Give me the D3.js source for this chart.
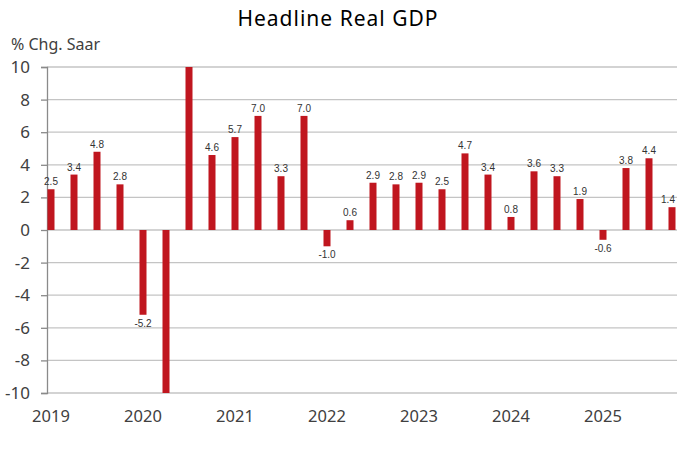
<!DOCTYPE html>
<html>
<head>
<meta charset="utf-8">
<script src="https://cdn.jsdelivr.net/npm/d3@7"></script>
<style>
  body { margin: 0; background: #fff; }
  svg { display: block; }
</style>
</head>
<body>
<div id="art"></div>
<script>
const quarters = [
  "2019Q1","2019Q2","2019Q3","2019Q4",
  "2020Q1","2020Q2","2020Q3","2020Q4",
  "2021Q1","2021Q2","2021Q3","2021Q4",
  "2022Q1","2022Q2","2022Q3","2022Q4",
  "2023Q1","2023Q2","2023Q3","2023Q4",
  "2024Q1","2024Q2","2024Q3","2024Q4",
  "2025Q1","2025Q2","2025Q3","2025Q4"
];
const gdp = [
  2.5, 3.4, 4.8, 2.8,
  -5.2, -28.0, 34.8, 4.6,
  5.7, 7.0, 3.3, 7.0,
  -1.0, 0.6, 2.9, 2.8,
  2.9, 2.5, 4.7, 3.4,
  0.8, 3.6, 3.3, 1.9,
  -0.6, 3.8, 4.4, 1.4
];
const yTicks = [-10, -8, -6, -4, -2, 0, 2, 4, 6, 8, 10];
const yearLabels = ["2019", "2020", "2021", "2022", "2023", "2024", "2025"];

function art() {
  const width = 677, height = 456;
  const top = 67, bottom = 393, axisX = 47;
  const barW = 7;

  const svg = d3.select("#art").append("svg")
    .attr("width", width).attr("height", height);

  const x = d3.scaleBand().domain(quarters).range([39.5, 39.5 + 23 * quarters.length]).padding(0);
  const y = d3.scaleLinear().domain([-10, 10]).range([bottom, top]);
  const cx = q => x(q) + x.bandwidth() / 2;

  svg.append("text")
    .attr("x", 338).attr("y", 26)
    .attr("text-anchor", "middle")
    .style("font-family", "'Noto Sans', sans-serif")
    .style("font-size", "21px")
    .style("letter-spacing", "1px")
    .style("fill", "#000")
    .text("Headline Real GDP");

  svg.append("text")
    .attr("x", 11).attr("y", 50)
    .style("font-family", "'Noto Sans', sans-serif")
    .style("font-size", "16px")
    .style("fill", "#404040")
    .text("% Chg. Saar");

  // gridlines
  svg.append("g").selectAll("line")
    .data(yTicks)
    .enter().append("line")
    .attr("x1", axisX).attr("x2", width)
    .attr("y1", d => y(d)).attr("y2", d => y(d))
    .style("stroke", "#c4c4c4")
    .style("stroke-width", 1.3);

  // y axis
  const yAxis = svg.append("g")
    .attr("transform", `translate(${axisX},0)`)
    .call(d3.axisLeft(y).tickValues(yTicks).tickSize(6).tickPadding(11).tickFormat(d => String(d)));
  yAxis.select(".domain").style("stroke", "#8a8a8a").style("stroke-width", 1.3);
  yAxis.selectAll(".tick line").style("stroke", "#8a8a8a").style("stroke-width", 1.3);
  yAxis.selectAll(".tick text")
    .style("font-family", "'Noto Sans', sans-serif")
    .style("font-size", "17px")
    .style("fill", "#404040");

  svg.append("clipPath").attr("id", "plot")
    .append("rect").attr("x", axisX).attr("y", top).attr("width", width - axisX).attr("height", bottom - top);

  const data = quarters.map((q, i) => ({ q, v: gdp[i] }));

  svg.append("g").attr("clip-path", "url(#plot)")
    .selectAll("rect")
    .data(data)
    .enter().append("rect")
    .attr("x", d => cx(d.q) - barW / 2)
    .attr("width", barW)
    .attr("y", d => y(Math.max(0, d.v)))
    .attr("height", d => Math.abs(y(d.v) - y(0)))
    .style("fill", "#c0161f");

  svg.append("g").selectAll("text")
    .data(data.filter(d => Math.abs(d.v) < 10))
    .enter().append("text")
    .attr("x", d => Math.min(cx(d.q), width - 9))
    .attr("y", d => d.v >= 0 ? y(d.v) - 4 : y(d.v) + 12)
    .attr("text-anchor", "middle")
    .style("font-family", "'Liberation Sans', Arial, sans-serif")
    .style("font-size", "10px")
    .style("fill", "#333")
    .text(d => d.v.toFixed(1));

  // year labels under the first quarter of each year
  svg.append("g").selectAll("text")
    .data(yearLabels)
    .enter().append("text")
    .attr("x", d => cx(d + "Q1"))
    .attr("y", 422)
    .attr("text-anchor", "middle")
    .style("font-family", "'Noto Sans', sans-serif")
    .style("font-size", "16.5px")
    .style("fill", "#404040")
    .text(d => d);
}

window.onload = function () {
  art();
};
</script>
</body>
</html>
